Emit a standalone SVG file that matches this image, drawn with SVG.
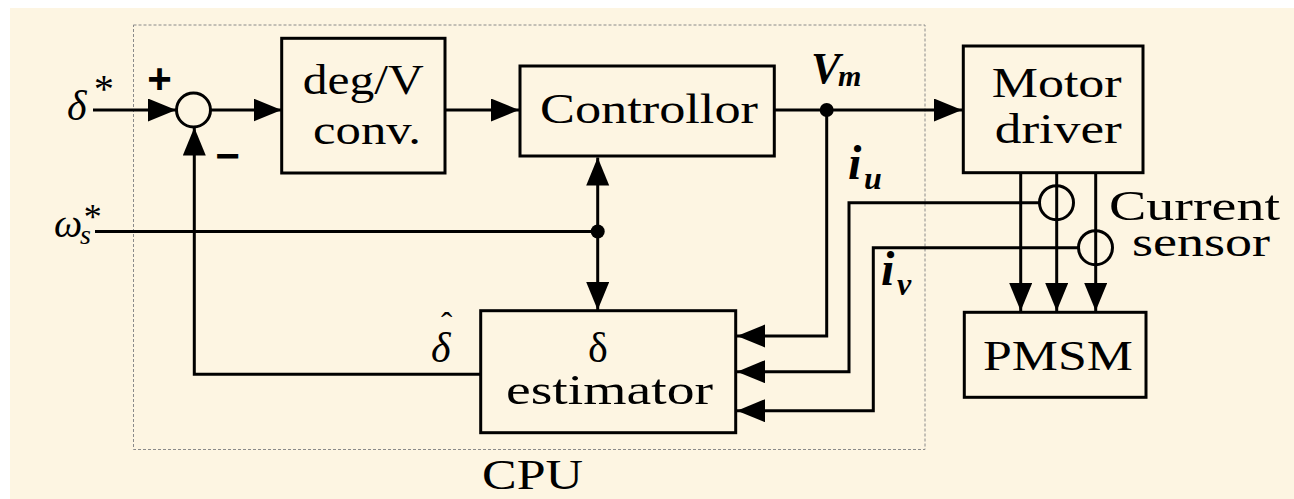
<svg xmlns="http://www.w3.org/2000/svg" width="1294" height="499" viewBox="0 0 1294 499">
<style>
.box{fill:none;stroke:#000;stroke-width:3}
.ln{fill:none;stroke:#000;stroke-width:3}
.tx{font-family:'Liberation Serif','Times New Roman','DejaVu Serif',serif;font-size:42px;fill:#000}
.it{font-family:'Liberation Serif','Times New Roman','DejaVu Serif',serif;font-style:italic;fill:#000}
.bi{font-family:'Liberation Serif','Times New Roman','DejaVu Serif',serif;font-style:italic;font-weight:bold;fill:#000}
.sg{font-family:'Liberation Sans',Arial,sans-serif;font-weight:bold;fill:#000}
</style>
<defs>
<marker id="ah" markerUnits="userSpaceOnUse" markerWidth="29" markerHeight="24" refX="28" refY="11.5" orient="auto">
<path d="M0,0 L28,11.5 L0,23 Z" fill="#000"/>
</marker>
</defs>
<rect x="10" y="8" width="1284" height="491" fill="#FDF5E2"/>
<g id="cpu">
<rect x="133.5" y="25" width="791.5" height="424.5" fill="none" stroke="#8a8a8a" stroke-width="1" stroke-dasharray="3,2"/>
<text class="tx" x="532.5" y="489" text-anchor="middle" textLength="101" lengthAdjust="spacingAndGlyphs">CPU</text>
</g>
<g id="connectors">
<path class="ln" d="M93,110 H176" marker-end="url(#ah)"/>
<path class="ln" d="M210.5,110 H281.5" marker-end="url(#ah)"/>
<path class="ln" d="M445,110 H519" marker-end="url(#ah)"/>
<path class="ln" d="M774,110 H962" marker-end="url(#ah)"/>
<path class="ln" d="M826.7,110 V336 H737" marker-end="url(#ah)"/>
<path class="ln" d="M1039,202.7 H849 V371.7 H737" marker-end="url(#ah)"/>
<path class="ln" d="M1078,247.7 H873.3 V410.7 H737" marker-end="url(#ah)"/>
<path class="ln" d="M95,231.5 H597.7"/>
<path class="ln" d="M597.7,231.5 V157.5" marker-end="url(#ah)"/>
<path class="ln" d="M597.7,231.5 V310" marker-end="url(#ah)"/>
<path class="ln" d="M480.7,374.3 H194.3 V127.5" marker-end="url(#ah)"/>
<path class="ln" d="M1020.7,172.7 V311" marker-end="url(#ah)"/>
<path class="ln" d="M1056.7,172.7 V311" marker-end="url(#ah)"/>
<path class="ln" d="M1095.7,172.7 V311" marker-end="url(#ah)"/>
<circle cx="826.7" cy="110" r="7" fill="#000"/>
<circle cx="597.7" cy="231.5" r="7" fill="#000"/>
</g>
<g id="sum">
<circle cx="193.5" cy="110" r="17" fill="none" stroke="#000" stroke-width="3"/>
<text class="sg" x="159.5" y="93" font-size="42" text-anchor="middle">+</text>
<text class="sg" x="227.5" y="170" font-size="42" text-anchor="middle">−</text>
</g>
<g id="sensor1"><circle cx="1056.5" cy="202.7" r="17" fill="none" stroke="#000" stroke-width="3"/></g>
<g id="sensor2"><circle cx="1095.5" cy="247.7" r="17" fill="none" stroke="#000" stroke-width="3"/></g>
<g id="degv">
<rect class="box" x="281.7" y="38.3" width="163.3" height="134.7"/>
<text class="tx" x="363.3" y="94" text-anchor="middle" textLength="121" lengthAdjust="spacingAndGlyphs">deg/V</text>
<text class="tx" x="367" y="144" text-anchor="middle" textLength="108" lengthAdjust="spacingAndGlyphs">conv.</text>
</g>
<g id="controller">
<rect class="box" x="520" y="66" width="254.3" height="90"/>
<text class="tx" x="649" y="123" text-anchor="middle" textLength="218" lengthAdjust="spacingAndGlyphs">Controllor</text>
</g>
<g id="motordriver">
<rect class="box" x="963.3" y="46" width="179.7" height="126.7"/>
<text class="tx" x="1056.7" y="97" text-anchor="middle" textLength="130" lengthAdjust="spacingAndGlyphs">Motor</text>
<text class="tx" x="1058.3" y="143" text-anchor="middle" textLength="127" lengthAdjust="spacingAndGlyphs">driver</text>
</g>
<g id="estimator">
<rect class="box" x="480.7" y="310.7" width="255" height="122"/>
<text class="tx" x="598" y="362" text-anchor="middle">δ</text>
<text class="tx" x="609.5" y="404" text-anchor="middle" textLength="207" lengthAdjust="spacingAndGlyphs">estimator</text>
</g>
<g id="pmsm">
<rect class="box" x="964.3" y="312.3" width="181.7" height="85"/>
<text class="tx" x="1058" y="370" text-anchor="middle" textLength="150" lengthAdjust="spacingAndGlyphs">PMSM</text>
</g>
<g id="labels">
<text class="it" font-size="42"><tspan x="67" y="120">δ</tspan><tspan x="92" y="102" font-size="40">*</tspan></text>
<text class="it" font-size="40"><tspan x="54" y="237">ω</tspan><tspan x="80" y="244" font-size="28">s</tspan><tspan x="82" y="229" font-size="36">*</tspan></text>
<text class="bi" font-size="44"><tspan x="811" y="83">V</tspan><tspan x="838" y="86" font-size="30">m</tspan></text>
<text class="bi" font-size="48"><tspan x="848" y="179">i</tspan><tspan x="864" y="189" font-size="32">u</tspan></text>
<text class="bi" font-size="48"><tspan x="881" y="285">i</tspan><tspan x="897" y="295" font-size="32">v</tspan></text>
<text class="it" font-size="42"><tspan x="431" y="362">δ</tspan><tspan x="441" y="336" font-size="34" font-style="normal">ˆ</tspan></text>
<text class="tx"><tspan x="1194.5" y="220" text-anchor="middle" textLength="171" lengthAdjust="spacingAndGlyphs">Current</tspan><tspan x="1201" y="256" text-anchor="middle" textLength="138" lengthAdjust="spacingAndGlyphs">sensor</tspan></text>
</g>
</svg>
